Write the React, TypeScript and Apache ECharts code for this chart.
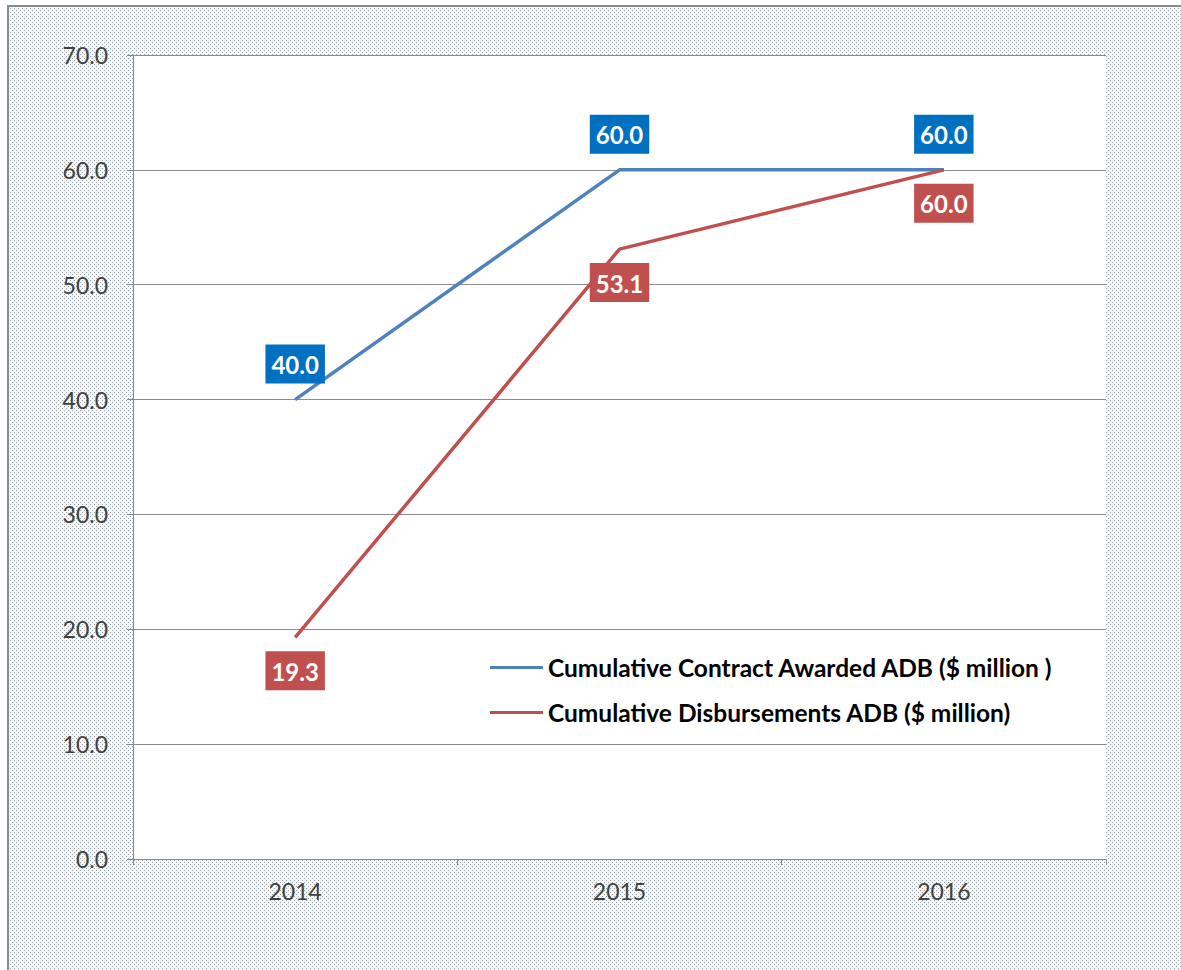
import React, { useEffect, useRef } from "react";
import * as echarts from "echarts";

const categories = ["2014", "2015", "2016"];
const contractAwarded = [40.0, 60.0, 60.0];
const disbursements = [19.3, 53.1, 60.0];
const seriesNames = [
  "Cumulative Contract Awarded ADB ($ million )",
  "Cumulative Disbursements ADB ($ million)",
];

const dotPattern =
  "url(\"data:image/svg+xml;utf8,<svg xmlns='http://www.w3.org/2000/svg' width='4' height='4'><rect width='4' height='4' fill='%23f6f9fb'/><rect x='1' y='1' width='1' height='1' fill='%23959da3'/><rect x='3' y='3' width='1' height='1' fill='%23959da3'/></svg>\")";

export default function App() {
  const ref = useRef<HTMLDivElement>(null);
  useEffect(() => {
    document.body.style.margin = "0";
    const chart = echarts.init(ref.current!, undefined, { renderer: "svg" });
    const font = "Lato, 'Open Sans', sans-serif";
    const labelBase = {
      show: true,
      color: "#ffffff",
      fontWeight: "bold" as const,
      fontSize: 24,
      fontFamily: font,
      lineHeight: 26,
      padding: [7, 6, 6, 6],
      formatter: (p: any) => Number(p.value).toFixed(1),
    };
    chart.setOption({
      animation: false,
      backgroundColor: "transparent",
      grid: {
        left: 133,
        right: 75,
        top: 55,
        bottom: 111,
        show: true,
        backgroundColor: "#ffffff",
        borderWidth: 0,
      },
      legend: {
        orient: "vertical",
        left: 485,
        top: 650,
        icon: "rect",
        itemWidth: 53,
        itemHeight: 3,
        itemGap: 20,
        textStyle: {
          fontFamily: font,
          fontWeight: "bold",
          fontSize: 24.5,
          lineHeight: 25,
          color: "#000000",
        },
        data: seriesNames,
      },
      xAxis: {
        type: "category",
        data: categories,
        boundaryGap: true,
        axisLine: { lineStyle: { color: "#888888", width: 1 } },
        axisTick: { show: true, length: 6, lineStyle: { color: "#888888" } },
        axisLabel: {
          color: "#404040",
          fontSize: 23,
          fontFamily: font,
          margin: 20,
        },
      },
      yAxis: {
        type: "value",
        min: 0,
        max: 70,
        interval: 10,
        axisLine: { show: true, lineStyle: { color: "#888888", width: 1 } },
        axisTick: { show: true, length: 6, lineStyle: { color: "#888888" } },
        splitLine: { show: true, lineStyle: { color: "#8c8c8c", width: 1 } },
        axisLabel: {
          color: "#404040",
          fontSize: 23,
          fontFamily: font,
          margin: 25,
          formatter: (v: number) => v.toFixed(1),
        },
      },
      series: [
        {
          name: seriesNames[0],
          type: "line",
          data: contractAwarded,
          symbol: "circle",
          symbolSize: 0,
          showSymbol: true,
          lineStyle: { color: "#4F81BD", width: 3.5 },
          itemStyle: { color: "#4F81BD" },
          label: { ...labelBase, position: "top", distance: 16, backgroundColor: "#0070C0" },
          z: 3,
        },
        {
          name: seriesNames[1],
          type: "line",
          data: disbursements,
          symbol: "circle",
          symbolSize: 0,
          showSymbol: true,
          lineStyle: { color: "#C0504D", width: 3.5 },
          itemStyle: { color: "#C0504D" },
          label: { ...labelBase, position: "bottom", distance: 14, backgroundColor: "#C0504D" },
          z: 4,
        },
      ],
    });
    return () => chart.dispose();
  }, []);

  return (
    <div style={{ position: "relative", width: 1181, height: 970, background: "#ffffff", overflow: "hidden" }}>
      <div
        style={{
          position: "absolute",
          left: 7,
          top: 5,
          width: 1181,
          height: 970,
          borderLeft: "2px solid #8a8a8a",
          borderTop: "2px solid #8a8a8a",
          backgroundImage: dotPattern,
          backgroundRepeat: "repeat",
        }}
      />
      <div ref={ref} style={{ position: "absolute", left: 0, top: 0, width: 1181, height: 970 }} />
    </div>
  );
}
